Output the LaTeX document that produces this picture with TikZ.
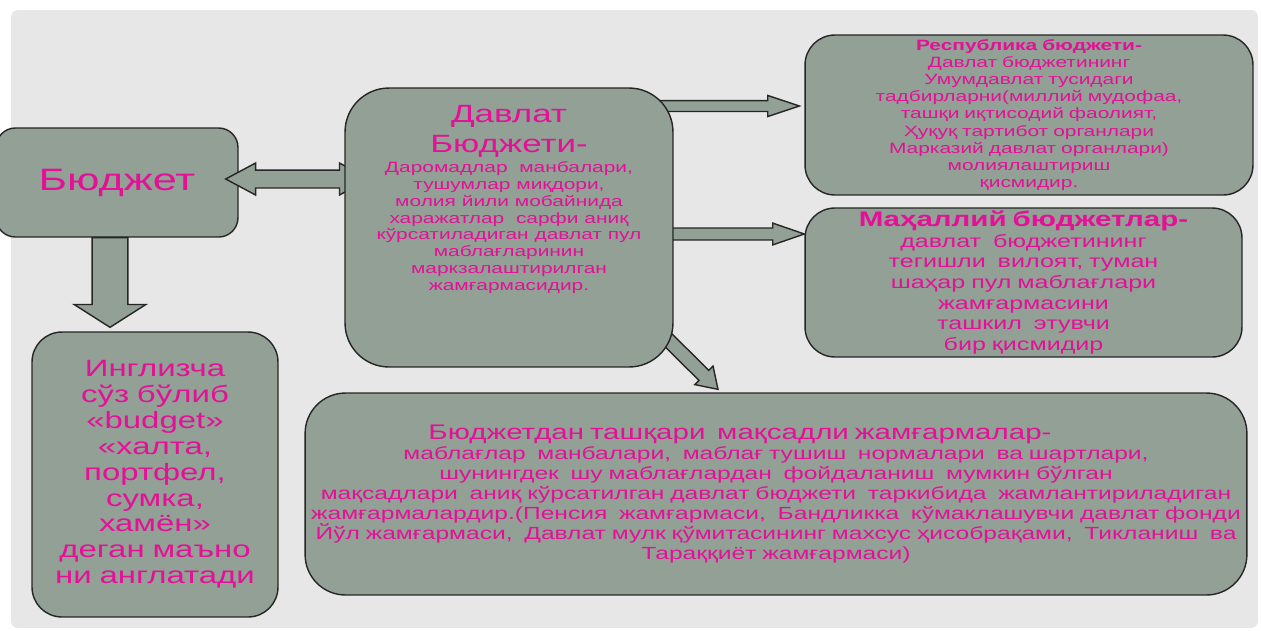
\documentclass[tikz,border=0pt]{standalone}
\usepackage{fontspec}
\setmainfont{Liberation Sans}[FakeStretch=1.4]
\usetikzlibrary{calc,positioning}
\definecolor{boxgray}{RGB}{146,160,150}
\definecolor{textpink}{RGB}{228,16,152}
\definecolor{slidegray}{RGB}{231,231,231}
\pgfdeclarelayer{front}
\pgfsetlayers{main,front}
\tikzset{
  box/.style={draw=black!85, line width=0.8pt, fill=boxgray, text=textpink,
    align=center, inner sep=0pt},
  ashaft/.store in=\ashaft, ahead/.store in=\ahead, alen/.store in=\alen,
  ashaft=4pt, ahead=8pt, alen=12pt,
  block/.style={draw=black!85, line width=0.8pt, fill=boxgray, line join=miter,
    to path={($(\tikztostart)!\ashaft!-90:(\tikztotarget)$)
      -- ($(\tikztotarget)!\alen!(\tikztostart)!\ashaft!-90:(\tikztotarget)$)
      -- ($(\tikztotarget)!\alen!(\tikztostart)!\ahead!-90:(\tikztotarget)$)
      -- (\tikztotarget)
      -- ($(\tikztotarget)!\alen!(\tikztostart)!\ahead!90:(\tikztotarget)$)
      -- ($(\tikztotarget)!\alen!(\tikztostart)!\ashaft!90:(\tikztotarget)$)
      -- ($(\tikztostart)!\ashaft!90:(\tikztotarget)$) -- cycle}},
  dblock/.style={draw=black!85, line width=0.8pt, fill=boxgray, line join=miter,
    to path={-- ($(\tikztostart)!\alen!(\tikztotarget)!\ahead!90:(\tikztotarget)$)
      -- ($(\tikztostart)!\alen!(\tikztotarget)!\ashaft!90:(\tikztotarget)$)
      -- ($(\tikztotarget)!\alen!(\tikztostart)!\ashaft!-90:(\tikztostart)$)
      -- ($(\tikztotarget)!\alen!(\tikztostart)!\ahead!-90:(\tikztostart)$)
      -- (\tikztotarget)
      -- ($(\tikztotarget)!\alen!(\tikztostart)!\ahead!90:(\tikztostart)$)
      -- ($(\tikztotarget)!\alen!(\tikztostart)!\ashaft!90:(\tikztostart)$)
      -- ($(\tikztostart)!\alen!(\tikztotarget)!\ashaft!-90:(\tikztotarget)$)
      -- ($(\tikztostart)!\alen!(\tikztotarget)!\ahead!-90:(\tikztotarget)$)
      -- cycle}}
}

\begin{document}
\begin{tikzpicture}[x=0.02cm,y=-0.02cm]
  \useasboundingbox (0,0) rectangle (1261,630);
  \fill[slidegray, rounded corners=4pt] (11,10) rectangle (1258,628);

  % boxes
  \node[box, rounded corners=11pt, minimum width=4.84cm, minimum height=2.18cm,
    font=\fontsize{17.6}{20}\selectfont] (bud) at (117,182.5) {Бюджет};
  \node[box, rounded corners=17pt, minimum width=4.92cm, minimum height=5.7cm,
    text width=4.92cm, font=\fontsize{13.4}{14.7}\selectfont] (eng) at (155,474.5)
    {Инглизча\\ сўз бўлиб\\«budget»\\«халта,\\портфел,\\сумка,\\хамён»\\деган маъно\\ни англатади};
  \begin{pgfonlayer}{front}
  \node[box, rounded corners=25pt, minimum width=6.56cm, minimum height=5.58cm,
    text width=6.56cm] (dav) at (509,227.5)
    {{\fontsize{14.2}{16.6}\selectfont Давлат\\Бюджети-\par}\vspace{2pt}%
     {\fontsize{8.5}{9.6}\selectfont Даромадлар~ манбалари,\\тушумлар миқдори,\\
      молия йили мобайнида\\харажатлар~ сарфи аниқ\\кўрсатиладиган давлат пул\\
      маблағларинин\\маркзалаштирилган\\жамғармасидир.\par}\vspace*{31.6pt}};
  \end{pgfonlayer}
  \node[box, rounded corners=17pt, minimum width=8.96cm, minimum height=3.2cm,
    text width=8.96cm, font=\fontsize{8.5}{9.8}\selectfont] (resp) at (1029,115)
    {\textbf{Республика бюджети-}\\Давлат бюджетининг\\Умумдавлат тусидаги\\
     тадбирларни(миллий мудофаа,\\ташқи иқтисодий фаолият,\\Ҳуқуқ тартибот органлари\\
     Марказий давлат органлари)\\молиялаштириш\\қисмидир.};
  \node[box, rounded corners=17pt, minimum width=8.74cm, minimum height=2.98cm,
    text width=8.74cm, font=\fontsize{10.2}{11.7}\selectfont] (mah) at (1023.5,282.5)
    {{\bfseries\fontsize{12}{12.5}\selectfont Маҳаллий бюджетлар-\par}%
     давлат~ бюджетининг\\тегишли~ вилоят, туман\\шаҳар пул маблағлари\\
     жамғармасини\\ташкил~ этувчи\\бир қисмидир};
  \node[box, rounded corners=23pt, minimum width=18.84cm, minimum height=4.04cm,
    text width=18.84cm, font=\fontsize{10}{11.3}\selectfont] (fund) at (776,494)
    {{\fontsize{12}{13}\selectfont Бюджетдан ташқари~ мақсадли жамғармалар-\hspace*{1.44cm}\par}%
     маблағлар~ манбалари,~ маблағ тушиш~ нормалари~ ва шартлари,\\
     шунингдек~ шу маблағлардан~ фойдаланиш~ мумкин бўлган\\
     мақсадлари~ аниқ кўрсатилган давлат бюджети~ таркибида~ жамлантириладиган\\
     жамғармалардир.(Пенсия~ жамғармаси,~ Бандликка~ кўмаклашувчи давлат фонди\\
     Йўл жамғармаси,~ Давлат мулк қўмитасининг махсус ҳисобрақами,~ Тикланиш~ ва\\
     Тараққиёт жамғармаси)};

  % block arrows
  \draw[block, ashaft=10.2pt, ahead=20.4pt, alen=13pt]
    ($(bud.south)+(-7,0)$) to ($(eng.north)+(-45,-4)$);
  \draw[dblock, ashaft=5.1pt, ahead=9.1pt, alen=17pt]
    ($(bud.east)+(-13,-3.5)$) to ($(dav.west)+(25,-48.5)$);
  \draw[block, ashaft=3.1pt, ahead=6pt, alen=18pt]
    ($(dav.east)+(-15,-121.5)$) to ($(resp.west)+(-5,-9)$);
  \draw[block, ashaft=3.4pt, ahead=6.2pt, alen=18pt]
    ($(dav.east)+(-15,6.5)$) to ($(mah.west)+(0,-48.5)$);
  \draw[block, ashaft=4pt, ahead=7.4pt, alen=11.3pt]
    ($(dav.south east)+(-23,-45)$) to ($(fund.north)+(-58,-3)$);
\end{tikzpicture}
\end{document}
